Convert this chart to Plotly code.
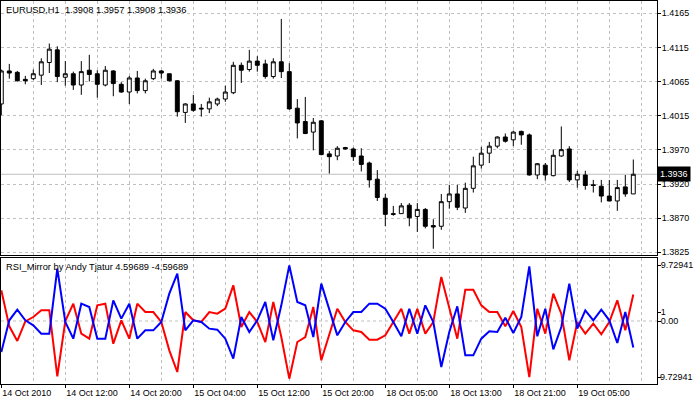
import plotly.graph_objects as go

# ---------------- data ----------------
bar_index = list(range(80))

open_ = [1.4036, 1.4083, 1.4081, 1.4071, 1.4072, 1.4077, 1.4095, 1.4113, 1.4074, 1.4079,
         1.4063, 1.4084, 1.4079, 1.4063, 1.4083, 1.4064, 1.4053, 1.4073, 1.4055, 1.4072,
         1.4083, 1.4079, 1.4069, 1.4024, 1.4036, 1.4030, 1.4029, 1.4036, 1.4043, 1.4052,
         1.4091, 1.4085, 1.4097, 1.4093, 1.4075, 1.4096, 1.4082, 1.4030, 1.4011, 1.3996,
         1.4012, 1.3965, 1.3962, 1.3974, 1.3972, 1.3962, 1.3952, 1.3929, 1.3902, 1.3880,
         1.3880, 1.3892, 1.3876, 1.3886, 1.3863, 1.3862, 1.3897, 1.3908, 1.3888, 1.3916,
         1.3949, 1.3966, 1.3976, 1.3989, 1.3985, 1.3997, 1.3992, 1.3935, 1.3949, 1.3934,
         1.3962, 1.3972, 1.3928, 1.3935, 1.3921, 1.3919, 1.3905, 1.3898, 1.3918, 1.3908]
high = [1.4085, 1.4093, 1.4083, 1.4076, 1.4085, 1.4101, 1.4122, 1.4118, 1.4097, 1.4082,
        1.4097, 1.4106, 1.4084, 1.4090, 1.4084, 1.4067, 1.4076, 1.4083, 1.4072, 1.4086,
        1.4084, 1.4079, 1.4070, 1.4037, 1.4049, 1.4036, 1.4045, 1.4045, 1.4062, 1.4096,
        1.4095, 1.4113, 1.4104, 1.4099, 1.4101, 1.4157, 1.4094, 1.4043, 1.4046, 1.4016,
        1.4013, 1.3969, 1.3976, 1.3975, 1.3974, 1.3973, 1.3954, 1.3942, 1.3908, 1.3891,
        1.3895, 1.3895, 1.3895, 1.3888, 1.3872, 1.3908, 1.3921, 1.3921, 1.3924, 1.3961,
        1.3975, 1.3982, 1.3990, 1.3994, 1.3998, 1.3998, 1.3994, 1.3952, 1.3952, 1.3971,
        1.4004, 1.3976, 1.3941, 1.3941, 1.3928, 1.3928, 1.3928, 1.3928, 1.3935, 1.3957]
low = [1.4020, 1.4072, 1.4068, 1.4064, 1.4070, 1.4063, 1.4080, 1.4067, 1.4062, 1.4056,
       1.4049, 1.4068, 1.4045, 1.4061, 1.4047, 1.4052, 1.4036, 1.4051, 1.4051, 1.4070,
       1.4072, 1.4068, 1.4018, 1.4009, 1.4025, 1.4018, 1.4023, 1.4033, 1.4039, 1.4050,
       1.4066, 1.4082, 1.4082, 1.4072, 1.4072, 1.4073, 1.4028, 1.3987, 1.3993, 1.3970,
       1.3963, 1.3937, 1.3956, 1.3971, 1.3955, 1.3940, 1.3917, 1.3898, 1.3862, 1.3877,
       1.3880, 1.3862, 1.3854, 1.3859, 1.3830, 1.3857, 1.3887, 1.3885, 1.3881, 1.3910,
       1.3944, 1.3952, 1.3973, 1.3981, 1.3976, 1.3978, 1.3934, 1.3929, 1.3927, 1.3933,
       1.3961, 1.3925, 1.3917, 1.3914, 1.3910, 1.3896, 1.3898, 1.3884, 1.3904, 1.3908]
close = [1.4083, 1.4080, 1.4069, 1.4069, 1.4079, 1.4096, 1.4114, 1.4075, 1.4079, 1.4063,
         1.4082, 1.4078, 1.4064, 1.4084, 1.4065, 1.4053, 1.4073, 1.4055, 1.4069, 1.4083,
         1.4080, 1.4069, 1.4025, 1.4036, 1.4027, 1.4029, 1.4039, 1.4043, 1.4053, 1.4091,
         1.4084, 1.4097, 1.4091, 1.4075, 1.4096, 1.4082, 1.4029, 1.4009, 1.3994, 1.4010,
         1.3964, 1.3961, 1.3973, 1.3972, 1.3961, 1.3950, 1.3928, 1.3903, 1.3879, 1.3879,
         1.3891, 1.3874, 1.3886, 1.3862, 1.3861, 1.3897, 1.3908, 1.3889, 1.3916, 1.3948,
         1.3966, 1.3976, 1.3989, 1.3983, 1.3996, 1.3992, 1.3935, 1.3951, 1.3935, 1.3963,
         1.3971, 1.3928, 1.3936, 1.3920, 1.3920, 1.3905, 1.3898, 1.3917, 1.3908, 1.3936]

rsi_red = [5.33, -0.93, -3.47, -0.06, 0.69, 1.85, 1.85, -9.61, 0.00, 3.01,
           -2.20, -3.07, 2.72, 3.01, -3.94, 0.12, -3.07, 3.01, 1.56, 1.56,
           -0.17, -5.10, -8.86, 1.56, 0.12, -0.17, 1.56, 1.27, 2.14, 6.20,
           -1.04, 1.56, -0.17, -3.65, 3.30, -2.78, -10.02, -3.65, -2.78, 2.43,
           -6.83, -2.20, 2.14, -0.17, -1.62, -1.91, -3.24, -3.24, -2.49, -0.17,
           2.14, -2.20, 2.14, -2.20, -0.17, 7.64, 2.43, -3.07, 5.44, 5.44,
           2.72, 1.56, 1.56, -0.93, 1.74, -1.04, -9.73, 2.14, -2.20, 4.75,
           1.27, -6.83, -0.17, -2.20, -0.46, -2.32, -0.17, 3.59, -1.62, 4.60]
rsi_blue = [-5.39, 0.12, 1.97, 0.12, -0.75, -2.20, -2.20, 9.09, -0.17, -3.07,
            3.01, 2.43, -3.07, -3.07, 3.59, 0.41, 3.01, -3.07, -1.62, -1.62,
            -0.17, 4.75, 8.22, -1.62, 0.12, -0.17, -1.33, -1.51, -3.07, -6.54,
            0.69, -1.91, 0.12, 3.30, -3.36, 2.72, 9.67, 3.30, 2.72, -2.78,
            6.49, 1.85, -2.49, -0.17, 1.56, 1.56, 3.01, 3.01, 2.14, -0.17,
            -2.66, 2.14, -2.20, 2.72, -0.17, -7.99, -1.91, 2.55, -5.96, -5.96,
            -3.07, -1.80, -1.91, 0.58, -2.08, 0.69, 9.50, -2.66, 2.14, -4.92,
            -1.04, 6.49, -1.33, 1.85, 0.12, 1.97, 0.12, -3.82, 1.56, -4.60]

price_ticks = ["1.3825", "1.3870", "1.3920", "1.3970", "1.4015", "1.4065", "1.4115", "1.4165"]
price_grid_low, price_grid_high = 1.3825, 1.4165
time_tick_bars = [0, 8, 16, 24, 32, 40, 48, 56, 64, 72]
time_tick_labels = ["14 Oct 2010", "14 Oct 12:00", "14 Oct 20:00", "15 Oct 04:00",
                    "15 Oct 12:00", "15 Oct 20:00", "18 Oct 05:00", "18 Oct 13:00",
                    "18 Oct 21:00", "19 Oct 05:00"]
ind_tick_vals = [9.72941, 1.56, 0.0, -9.72941]
ind_tick_text = ["9.72941", "1", "0.00", ""]
ind_low_label = "-9.72941"
bid_price = 1.3936
header_text = "EURUSD,H1  1.3908 1.3957 1.3908 1.3936"
ind_text = "RSI_Mirror by Andy Tjatur 4.59689 -4.59689"

# ---------------- figure ----------------
FONT = "Liberation Sans"
FS = 9.3      # header texts
TFS = 9       # tick labels
GRID = "#c0c0c0"
W, H = 694, 400
ML, MR, MT, MB = 1, 37, 1, 16
plot_h = H - MT - MB
main_dom = [(H - MB - 255) / plot_h, 1.0]
ind_dom = [0.0, (H - MB - 258) / plot_h]

n_steps = len(price_ticks) - 1
price_tick_vals = [price_grid_low + k * (price_grid_high - price_grid_low) / n_steps
                   for k in range(len(price_ticks))]

fig = go.Figure()
fig.add_trace(go.Candlestick(
    x=bar_index, open=open_, high=high, low=low, close=close,
    increasing=dict(line=dict(color="black", width=1), fillcolor="white"),
    decreasing=dict(line=dict(color="black", width=1), fillcolor="black"),
    whiskerwidth=0, xaxis="x", yaxis="y", showlegend=False, hoverinfo="skip"))
fig.add_trace(go.Scatter(x=bar_index, y=rsi_red, mode="lines",
                         line=dict(color="#ff0000", width=2),
                         xaxis="x2", yaxis="y2", showlegend=False))
fig.add_trace(go.Scatter(x=bar_index, y=rsi_blue, mode="lines",
                         line=dict(color="#0000ff", width=2),
                         xaxis="x2", yaxis="y2", showlegend=False))

x0 = -0.0375
x1 = x0 + (W - ML - MR) / 8.0
grid_bars = list(range(0, 82, 4))

px_per_unit = 7029.0
y_top = 1.4165 + 12.3 / px_per_unit
y_bot = 1.4165 - (255 - 13.3) / px_per_unit

fig.update_layout(
    width=W, height=H, margin=dict(l=ML, r=MR, t=MT, b=MB, autoexpand=False),
    paper_bgcolor="white", plot_bgcolor="white",
    font=dict(family=FONT, size=FS, color="black"),
    xaxis=dict(domain=[0, 1], range=[x0, x1], anchor="y", automargin=False,
               tickvals=grid_bars, showticklabels=False, ticks="",
               showgrid=True, gridcolor=GRID, griddash="3px,3px", gridwidth=1,
               showline=True, mirror=True, linecolor="black", linewidth=1,
               zeroline=False, rangeslider=dict(visible=False), fixedrange=True),
    xaxis2=dict(domain=[0, 1], range=[x0, x1], anchor="y2", matches="x",
                automargin=False, tickangle=0,
                tickvals=time_tick_bars, ticktext=time_tick_labels,
                ticks="outside", ticklen=3, tickcolor="black",
                ticklabelposition="outside right",
                showgrid=False,
                minor=dict(tickvals=grid_bars, showgrid=True, gridcolor=GRID,
                           griddash="3px,3px", ticks=""),
                showline=True, mirror=True, linecolor="black", linewidth=1,
                zeroline=False, tickfont=dict(size=TFS)),
    yaxis=dict(domain=main_dom, range=[y_bot, y_top], side="right", anchor="x",
               automargin=False,
               tickvals=price_tick_vals, ticktext=price_ticks,
               ticks="outside", ticklen=3, tickcolor="black",
               showgrid=True, gridcolor=GRID, griddash="3px,3px",
               showline=True, mirror=True, linecolor="black", linewidth=1,
               zeroline=False, tickfont=dict(size=TFS), ticklabelstandoff=-1),
    yaxis2=dict(domain=ind_dom, range=[-10.945, 10.945], side="right", anchor="x2",
                automargin=False,
                tickvals=ind_tick_vals, ticktext=ind_tick_text,
                ticks="outside", ticklen=3, tickcolor="black",
                showgrid=False, showline=True, mirror=True, linecolor="black",
                linewidth=1, zeroline=False, tickfont=dict(size=TFS),
                ticklabelstandoff=-2),
)

# zero level of indicator
fig.add_shape(type="line", xref="x2 domain", yref="y2", x0=0, x1=1, y0=0, y1=0,
              line=dict(color=GRID, width=1, dash="3px,3px"), layer="below")
# bid line
fig.add_shape(type="line", xref="x domain", yref="y", x0=0, x1=1,
              y0=bid_price, y1=bid_price, line=dict(color=GRID, width=1), layer="below")

fig.add_annotation(xref="paper", yref="y", x=1, y=bid_price, xanchor="left",
                   yanchor="middle", text=str(bid_price), showarrow=False,
                   bgcolor="black", font=dict(color="white", size=TFS, family=FONT),
                   borderpad=2, xshift=0)
# lowest indicator scale label (right-aligned to the window edge, as in the terminal)
fig.add_annotation(xref="paper", yref="y2", x=1, y=ind_tick_vals[-1], xanchor="right",
                   yanchor="middle", xshift=MR, text=ind_low_label, showarrow=False,
                   font=dict(size=TFS, family=FONT), borderpad=0)
fig.add_annotation(xref="paper", yref="paper", x=0, y=1, xanchor="left", yanchor="top",
                   xshift=3, yshift=-2, text=header_text, showarrow=False,
                   font=dict(size=FS, family=FONT))
fig.add_annotation(xref="paper", yref="paper", x=0, y=ind_dom[1], xanchor="left",
                   yanchor="top", xshift=3, yshift=-2, text=ind_text, showarrow=False,
                   font=dict(size=FS, family=FONT))

fig.write_html("out.html",
               config={"displayModeBar": False},
               post_script="document.body.style.margin='0px';"
                           "document.body.style.overflow='hidden';")
